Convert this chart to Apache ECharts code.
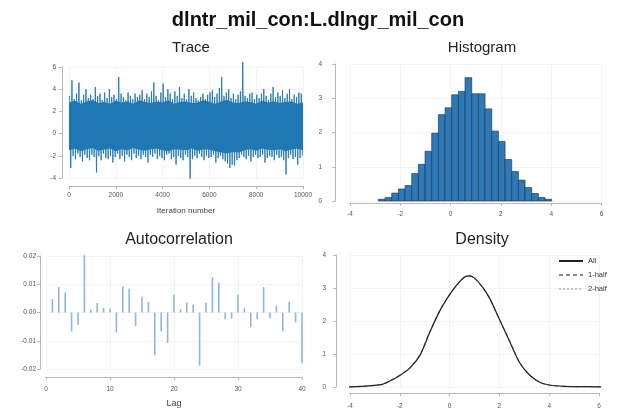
<!DOCTYPE html>
<html><head><meta charset="utf-8">
<script src="https://cdn.jsdelivr.net/npm/echarts@6/dist/echarts.min.js"></script>
<style>html,body{margin:0;padding:0;background:#fff}#c{width:620px;height:414px}</style>
</head><body><div id="c"></div>
<script>
const mainTitle = 'dlntr_mil_con:L.dlngr_mil_con';
const panelTitles = ['Trace', 'Histogram', 'Autocorrelation', 'Density'];

// Trace: per-chunk extremes (100 iterations per chunk)
const traceChunkSize = 100;
const traceHi = [3.4,4.8,3.1,3.6,4.6,3.0,3.5,4.0,3.2,3.5, 3.1,4.2,3.4,3.6,3.0,3.7,3.2,4.0,3.3,3.5,
  3.1,5.1,3.6,3.3,3.0,3.7,3.4,3.1,3.6,3.3, 3.5,3.9,3.1,3.6,3.3,3.8,4.6,3.4,3.0,3.7,
  4.5,3.3,4.0,3.6,3.1,3.8,3.4,4.2,3.2,3.6, 3.1,4.0,3.4,3.7,3.2,3.0,3.3,3.6,3.1,3.5,
  3.7,3.9,3.3,3.6,4.1,5.1,3.4,3.7,4.0,3.2, 3.6,3.1,3.5,3.8,6.45,3.4,3.2,3.6,3.7,3.1,
  3.5,3.2,3.6,4.0,3.4,3.0,3.6,4.2,3.3,3.7, 3.4,3.9,3.2,3.6,4.0,3.1,3.5,3.3,3.7,3.6];
const traceLo = [-3.1,-2.0,-2.3,-1.8,-2.1,-2.5,-1.9,-2.2,-2.4,-1.9, -2.1,-3.5,-2.0,-2.4,-1.8,-2.2,-2.3,-2.0,-2.6,-2.1,
  -1.8,-2.3,-2.0,-2.5,-1.9,-2.1,-2.4,-1.8,-2.2,-2.0, -2.3,-1.9,-2.1,-2.6,-1.9,-2.1,-1.8,-2.3,-2.0,-2.2,
  -2.4,-1.9,-1.8,-2.3,-2.1,-2.8,-2.0,-2.2,-2.4,-1.9, -2.1,-4.05,-2.3,-2.0,-2.2,-1.8,-2.1,-2.4,-2.0,-2.2,
  -2.1,-1.9,-2.6,-2.2,-2.0,-2.3,-2.5,-2.7,-3.1,-2.8, -2.9,-2.4,-2.2,-1.9,-2.1,-2.3,-2.0,-2.5,-2.1,-1.9,
  -2.2,-2.1,-1.9,-2.6,-2.2,-2.0,-2.1,-2.4,-1.9,-2.2, -2.1,-2.4,-3.7,-2.2,-1.9,-2.3,-2.1,-2.8,-2.2,-2.0];
// Trace: dense core band edges (every 250 iterations)
const coreIter = [0,250,500,750,1000,1250,1500,1750,2000,2250,2500,2750,3000,3250,3500,3750,4000,4250,4500,4750,
  5000,5250,5500,5750,6000,6250,6500,6750,7000,7250,7500,7750,8000,8250,8500,8750,9000,9250,9500,9750,10000];
const coreTop = [2.8,2.95,2.7,2.9,3.0,2.75,2.85,2.7,2.95,2.8,2.9,2.7,3.0,2.85,2.75,2.9,2.8,3.0,2.7,2.85,
  2.9,2.75,2.8,3.0,2.85,2.7,2.9,3.05,2.8,2.75,2.9,2.85,2.7,2.95,2.8,2.9,2.75,2.85,2.9,2.7,2.8];
const coreBottom = [-1.5,-1.35,-1.6,-1.4,-1.3,-1.55,-1.45,-1.35,-1.6,-1.4,-1.5,-1.3,-1.45,-1.55,-1.4,-1.35,-1.5,-1.6,-1.4,-1.45,
  -1.5,-1.35,-1.55,-1.4,-1.45,-1.6,-1.7,-1.8,-1.65,-1.7,-1.5,-1.4,-1.55,-1.35,-1.45,-1.5,-1.4,-1.6,-1.45,-1.35,-1.5];

// Histogram
const histEdges = [-2.87,-2.605,-2.34,-2.075,-1.81,-1.545,-1.28,-1.015,-0.75,-0.485,-0.22,0.045,0.31,0.575,0.84,1.105,1.37,1.635,1.9,2.165,2.43,2.695,2.96,3.225,3.49,3.755,4.02];
const histHeights = [0.05,0.1,0.23,0.35,0.45,0.8,1.07,1.45,1.98,2.52,2.72,3.1,3.2,3.6,3.13,3.13,2.69,2.04,1.74,1.21,0.86,0.61,0.39,0.22,0.1,0.05];

// Autocorrelation
const acfLags = [1,2,3,4,5,6,7,8,9,10,11,12,13,14,15,16,17,18,19,20,21,22,23,24,25,26,27,28,29,30,31,32,33,34,35,36,37,38,39,40];
const acfValues = [0.0047,0.0091,0.0071,-0.0067,-0.0043,0.0204,0.001,0.0034,0.0016,0.0014,
  -0.007,0.0093,0.0084,-0.0048,0.0056,0.0037,-0.015,-0.0066,-0.0108,0.0063,
  0.0012,0.0035,0.0028,-0.0188,0.0035,0.0125,0.0105,-0.0024,-0.0022,0.0063,
  0.0015,-0.0052,-0.0024,0.009,-0.002,0.0025,-0.0066,0.0038,-0.0035,-0.018];

// Density
const densityX = [-4.3,-3.5,-3.0,-2.7,-2.4,-2.0,-1.6,-1.2,-0.8,-0.4,0.0,0.3,0.6,0.8,1.0,1.3,1.6,2.0,2.4,2.8,3.2,3.6,4.0,4.6,5.5,6.6];
const densityAll = [0.0,0.02,0.05,0.08,0.18,0.35,0.57,0.95,1.65,2.3,2.8,3.1,3.33,3.37,3.3,3.05,2.7,2.05,1.4,0.75,0.37,0.15,0.06,0.02,0.01,0.0];
const densityHalf1 = [0.0,0.02,0.05,0.09,0.19,0.36,0.58,0.97,1.67,2.31,2.79,3.09,3.32,3.36,3.29,3.04,2.69,2.04,1.41,0.76,0.37,0.15,0.06,0.02,0.01,0.0];
const densityHalf2 = [0.0,0.02,0.05,0.08,0.17,0.34,0.56,0.93,1.63,2.29,2.81,3.11,3.34,3.38,3.31,3.06,2.71,2.06,1.39,0.74,0.37,0.15,0.06,0.02,0.01,0.0];
const legendNames = ['All', '1-half', '2-half'];

const FONT = "'Liberation Sans', Arial, sans-serif";
const AXIS_C = '#b8b8b8';
const LABEL_C = '#555';
const BLUE = '#1f77b4';

function axis(gridIndex, min, max, interval, offset, margin, extra) {
  return Object.assign({
    type: 'value', gridIndex, min, max, interval, offset,
    axisLine: { show: true, onZero: false, lineStyle: { color: AXIS_C, width: 1 } },
    axisTick: { show: true, length: 3, lineStyle: { color: AXIS_C } },
    axisLabel: { fontSize: 6.5, color: LABEL_C, margin, fontFamily: FONT, formatter: v => String(v) },
    splitLine: { show: true, lineStyle: { color: '#f2f2f2', width: 1 } }
  }, extra || {});
}

// zig-zag trace path from chunk extremes
const traceZig = [];
traceHi.forEach((h, i) => {
  traceZig.push([(i + 0.25) * traceChunkSize, h]);
  traceZig.push([(i + 0.75) * traceChunkSize, traceLo[i]]);
});

const chart = echarts.init(document.getElementById('c'), null, { renderer: 'canvas' });

const option = {
  backgroundColor: '#fff',
  animation: false,
  textStyle: { fontFamily: FONT },
  title: [
    { text: mainTitle, left: 313, top: 5, textAlign: 'center', textStyle: { fontSize: 20, fontWeight: 'bold', color: '#111', fontFamily: FONT } },
    { text: panelTitles[0], left: 186, top: 35, textAlign: 'center', textStyle: { fontSize: 15, fontWeight: 'normal', color: '#222', fontFamily: FONT } },
    { text: panelTitles[1], left: 477, top: 35, textAlign: 'center', textStyle: { fontSize: 15, fontWeight: 'normal', color: '#222', fontFamily: FONT } },
    { text: panelTitles[2], left: 174, top: 227, textAlign: 'center', textStyle: { fontSize: 16, fontWeight: 'normal', color: '#222', fontFamily: FONT } },
    { text: panelTitles[3], left: 477, top: 227, textAlign: 'center', textStyle: { fontSize: 16, fontWeight: 'normal', color: '#222', fontFamily: FONT } }
  ],
  legend: {
    data: legendNames, orient: 'vertical', left: 553, top: 252,
    itemWidth: 24, itemHeight: 10, itemGap: 6,
    itemStyle: { color: 'rgba(0,0,0,0)', borderColor: 'rgba(0,0,0,0)', borderWidth: 0 },
    textStyle: { fontSize: 7.5, color: '#333', fontFamily: FONT }
  },
  grid: [
    { left: 69, top: 67, width: 234, height: 111 },
    { left: 350, top: 64, width: 251.5, height: 137 },
    { left: 46, top: 256, width: 256, height: 113 },
    { left: 350, top: 255, width: 249, height: 132 }
  ],
  xAxis: [
    axis(0, 0, 10000, 2000, 8, 6, { name: 'Iteration number', nameLocation: 'middle', nameGap: 21,
      nameTextStyle: { fontSize: 8, color: '#444', fontFamily: FONT } }),
    axis(1, -4, 6, 2, 2, 8),
    axis(2, 0, 40, 10, 8, 9, { name: 'Lag', nameLocation: 'middle', nameGap: 22,
      nameTextStyle: { fontSize: 9, color: '#444', fontFamily: FONT } }),
    axis(3, -4, 6, 2, 6, 10)
  ],
  yAxis: [
    axis(0, -4, 6, 2, 7, 6),
    axis(1, 0, 4, 1, 15, 13),
    axis(2, -0.02, 0.02, 0.01, 6, 4, { axisLabel: { fontSize: 6.5, color: LABEL_C, margin: 4, fontFamily: FONT,
      formatter: v => (Math.abs(v) < 1e-9 ? 0 : v).toFixed(2) } }),
    axis(3, 0, 4, 1, 14, 10)
  ],
  series: [
    {
      type: 'custom', xAxisIndex: 0, yAxisIndex: 0, clip: false, silent: true,
      data: [[0, 0]],
      renderItem: function (params, api) {
        const pts = [];
        for (let i = 0; i < coreIter.length; i++) pts.push(api.coord([coreIter[i], coreTop[i]]));
        for (let i = coreIter.length - 1; i >= 0; i--) pts.push(api.coord([coreIter[i], coreBottom[i]]));
        return { type: 'polygon', shape: { points: pts }, style: { fill: BLUE } };
      }
    },
    {
      type: 'line', xAxisIndex: 0, yAxisIndex: 0, clip: false, silent: true,
      symbol: 'none', data: traceZig,
      lineStyle: { color: BLUE, width: 0.9 }
    },
    {
      type: 'custom', xAxisIndex: 1, yAxisIndex: 1, silent: true,
      data: histHeights.map((h, i) => [histEdges[i], histEdges[i + 1], h]),
      encode: { x: [0, 1], y: 2 },
      renderItem: function (params, api) {
        const p0 = api.coord([api.value(0), api.value(2)]);
        const p1 = api.coord([api.value(1), 0]);
        return { type: 'rect', shape: { x: p0[0], y: p0[1], width: p1[0] - p0[0], height: p1[1] - p0[1] },
          style: { fill: '#2f79b6', stroke: '#1c3c5a', lineWidth: 0.7 } };
      }
    },
    {
      type: 'custom', xAxisIndex: 2, yAxisIndex: 2, silent: true,
      data: acfLags.map((l, i) => [l, acfValues[i]]),
      encode: { x: 0, y: 1 },
      renderItem: function (params, api) {
        const a = api.coord([api.value(0), 0]);
        const b = api.coord([api.value(0), api.value(1)]);
        return { type: 'line', shape: { x1: a[0], y1: a[1], x2: b[0], y2: b[1] },
          style: { stroke: '#8fb6da', lineWidth: 1.6 } };
      }
    },
    {
      name: legendNames[2], type: 'line', xAxisIndex: 3, yAxisIndex: 3, clip: false, smooth: 0.3,
      symbol: 'none', data: densityX.map((x, i) => [x, densityHalf2[i]]),
      lineStyle: { color: '#c4c4c4', width: 1, type: 'dotted' }, itemStyle: { color: '#c4c4c4' }
    },
    {
      name: legendNames[1], type: 'line', xAxisIndex: 3, yAxisIndex: 3, clip: false, smooth: 0.3,
      symbol: 'none', data: densityX.map((x, i) => [x, densityHalf1[i]]),
      lineStyle: { color: '#888', width: 1.1, type: [4, 3] }, itemStyle: { color: '#888' }
    },
    {
      name: legendNames[0], type: 'line', xAxisIndex: 3, yAxisIndex: 3, clip: false, smooth: 0.3,
      symbol: 'none', data: densityX.map((x, i) => [x, densityAll[i]]),
      lineStyle: { color: '#222', width: 1.2, type: 'solid' }, itemStyle: { color: '#222' }
    }
  ]
};
chart.setOption(option);
</script>
</body></html>
